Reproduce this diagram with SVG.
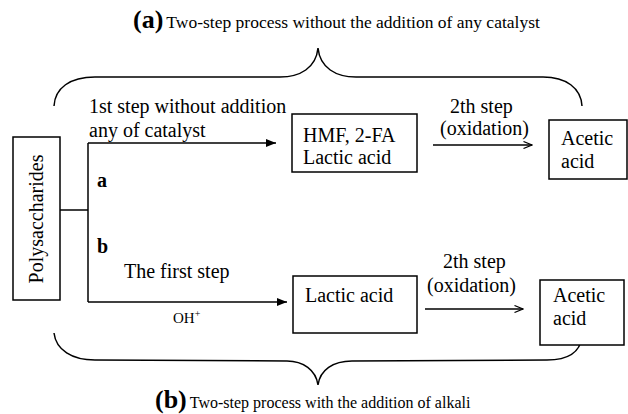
<svg xmlns="http://www.w3.org/2000/svg" width="628" height="414" viewBox="0 0 628 414">
  <defs>
    <style>
      .t { font-size: 20px; }
      .lbl { font-size: 20px; font-weight: bold; }
      .capb { font-size: 26px; font-weight: bold; }
      .box { fill: #fff; stroke: #000; stroke-width: 1.5; }
      .ln { fill: none; stroke: #000; stroke-width: 1.5; }
      .brace { fill: none; stroke: #000; stroke-width: 1.5; }
    </style>
    <marker id="solid" viewBox="0 0 10 8" refX="10" refY="4" markerWidth="10" markerHeight="8" markerUnits="userSpaceOnUse" orient="auto">
      <path d="M0,0 L10,4 L0,8 Z" fill="#000"/>
    </marker>
    <marker id="thin" viewBox="0 0 10 8" refX="9.5" refY="4" markerWidth="10" markerHeight="8" markerUnits="userSpaceOnUse" orient="auto">
      <path d="M1,0.5 L9.5,4 L1,7.5" fill="none" stroke="#000" stroke-width="1.2"/>
    </marker>
  </defs>

  <rect width="628" height="414" fill="#fff"/>

  <g font-family="Liberation Serif, Times New Roman, serif" fill="#000">
  <!-- captions -->
  <text x="133" y="28"><tspan class="capb">(a)</tspan><tspan font-size="17.5" dx="3">Two-step process without the addition of any catalyst</tspan></text>
  <text x="155" y="408"><tspan class="capb">(b)</tspan><tspan font-size="16" dx="3">Two-step process with the addition of alkali</tspan></text>

  <!-- curly braces -->
  <path class="brace" d="M54,106 C55,88 70,77 95,77 L280,77 C300,77 316,68 318,48 C320,68 336,77 356,77 L543,77 C566,77 581,88 582,106"/>
  <path class="brace" d="M54,333 C56,350 72,360 95,360 L287,361 C303,361 316,370 318,385 C320,370 333,361 352,361 L547,360 C568,360 580,352 582,337"/>

  <!-- connectors -->
  <g id="connectors">
    <path class="ln" d="M60,210 H88"/>
    <path class="ln" d="M88,143 V302"/>
    <path class="ln" d="M88,143 H276" marker-end="url(#solid)"/>
    <path class="ln" d="M88,302 H287" marker-end="url(#solid)"/>
    <path class="ln" d="M433,145 H532" stroke-width="1.3" marker-end="url(#thin)"/>
    <path class="ln" d="M425,309 H523" stroke-width="1.3" marker-end="url(#thin)"/>
    <text class="t" x="89" y="113">1st step without addition</text>
    <text class="t" x="89" y="137">any of catalyst</text>
    <text class="lbl" x="97" y="187">a</text>
    <text class="lbl" x="97" y="253">b</text>
    <text class="t" x="124" y="278">The first step</text>
    <text x="173" y="323" font-size="15">OH<tspan font-size="10" dy="-6">+</tspan></text>
    <text class="t" x="450" y="113">2th step</text>
    <text class="t" x="440" y="135">(oxidation)</text>
    <text class="t" x="443" y="268">2th step</text>
    <text class="t" x="427" y="292">(oxidation)</text>
  </g>

  <!-- nodes -->
  <g id="polysaccharides">
    <rect class="box" x="13" y="137" width="47" height="163"/>
    <text class="t" transform="translate(43,219) rotate(-90)" text-anchor="middle">Polysaccharides</text>
  </g>
  <g id="hmf">
    <rect class="box" x="292" y="114" width="125" height="58"/>
    <text class="t" x="303" y="142">HMF, 2-FA</text>
    <text class="t" x="303" y="164">Lactic acid</text>
  </g>
  <g id="acetic-top">
    <rect class="box" x="549" y="120" width="78" height="59"/>
    <text class="t" x="561" y="145">Acetic</text>
    <text class="t" x="561" y="168">acid</text>
  </g>
  <g id="lactic">
    <rect class="box" x="293" y="276" width="124" height="57"/>
    <text class="t" x="305" y="302">Lactic acid</text>
  </g>
  <g id="acetic-bottom">
    <rect class="box" x="540" y="280" width="84" height="65"/>
    <text class="t" x="553" y="302">Acetic</text>
    <text class="t" x="553" y="325">acid</text>
  </g>
  </g>
</svg>
